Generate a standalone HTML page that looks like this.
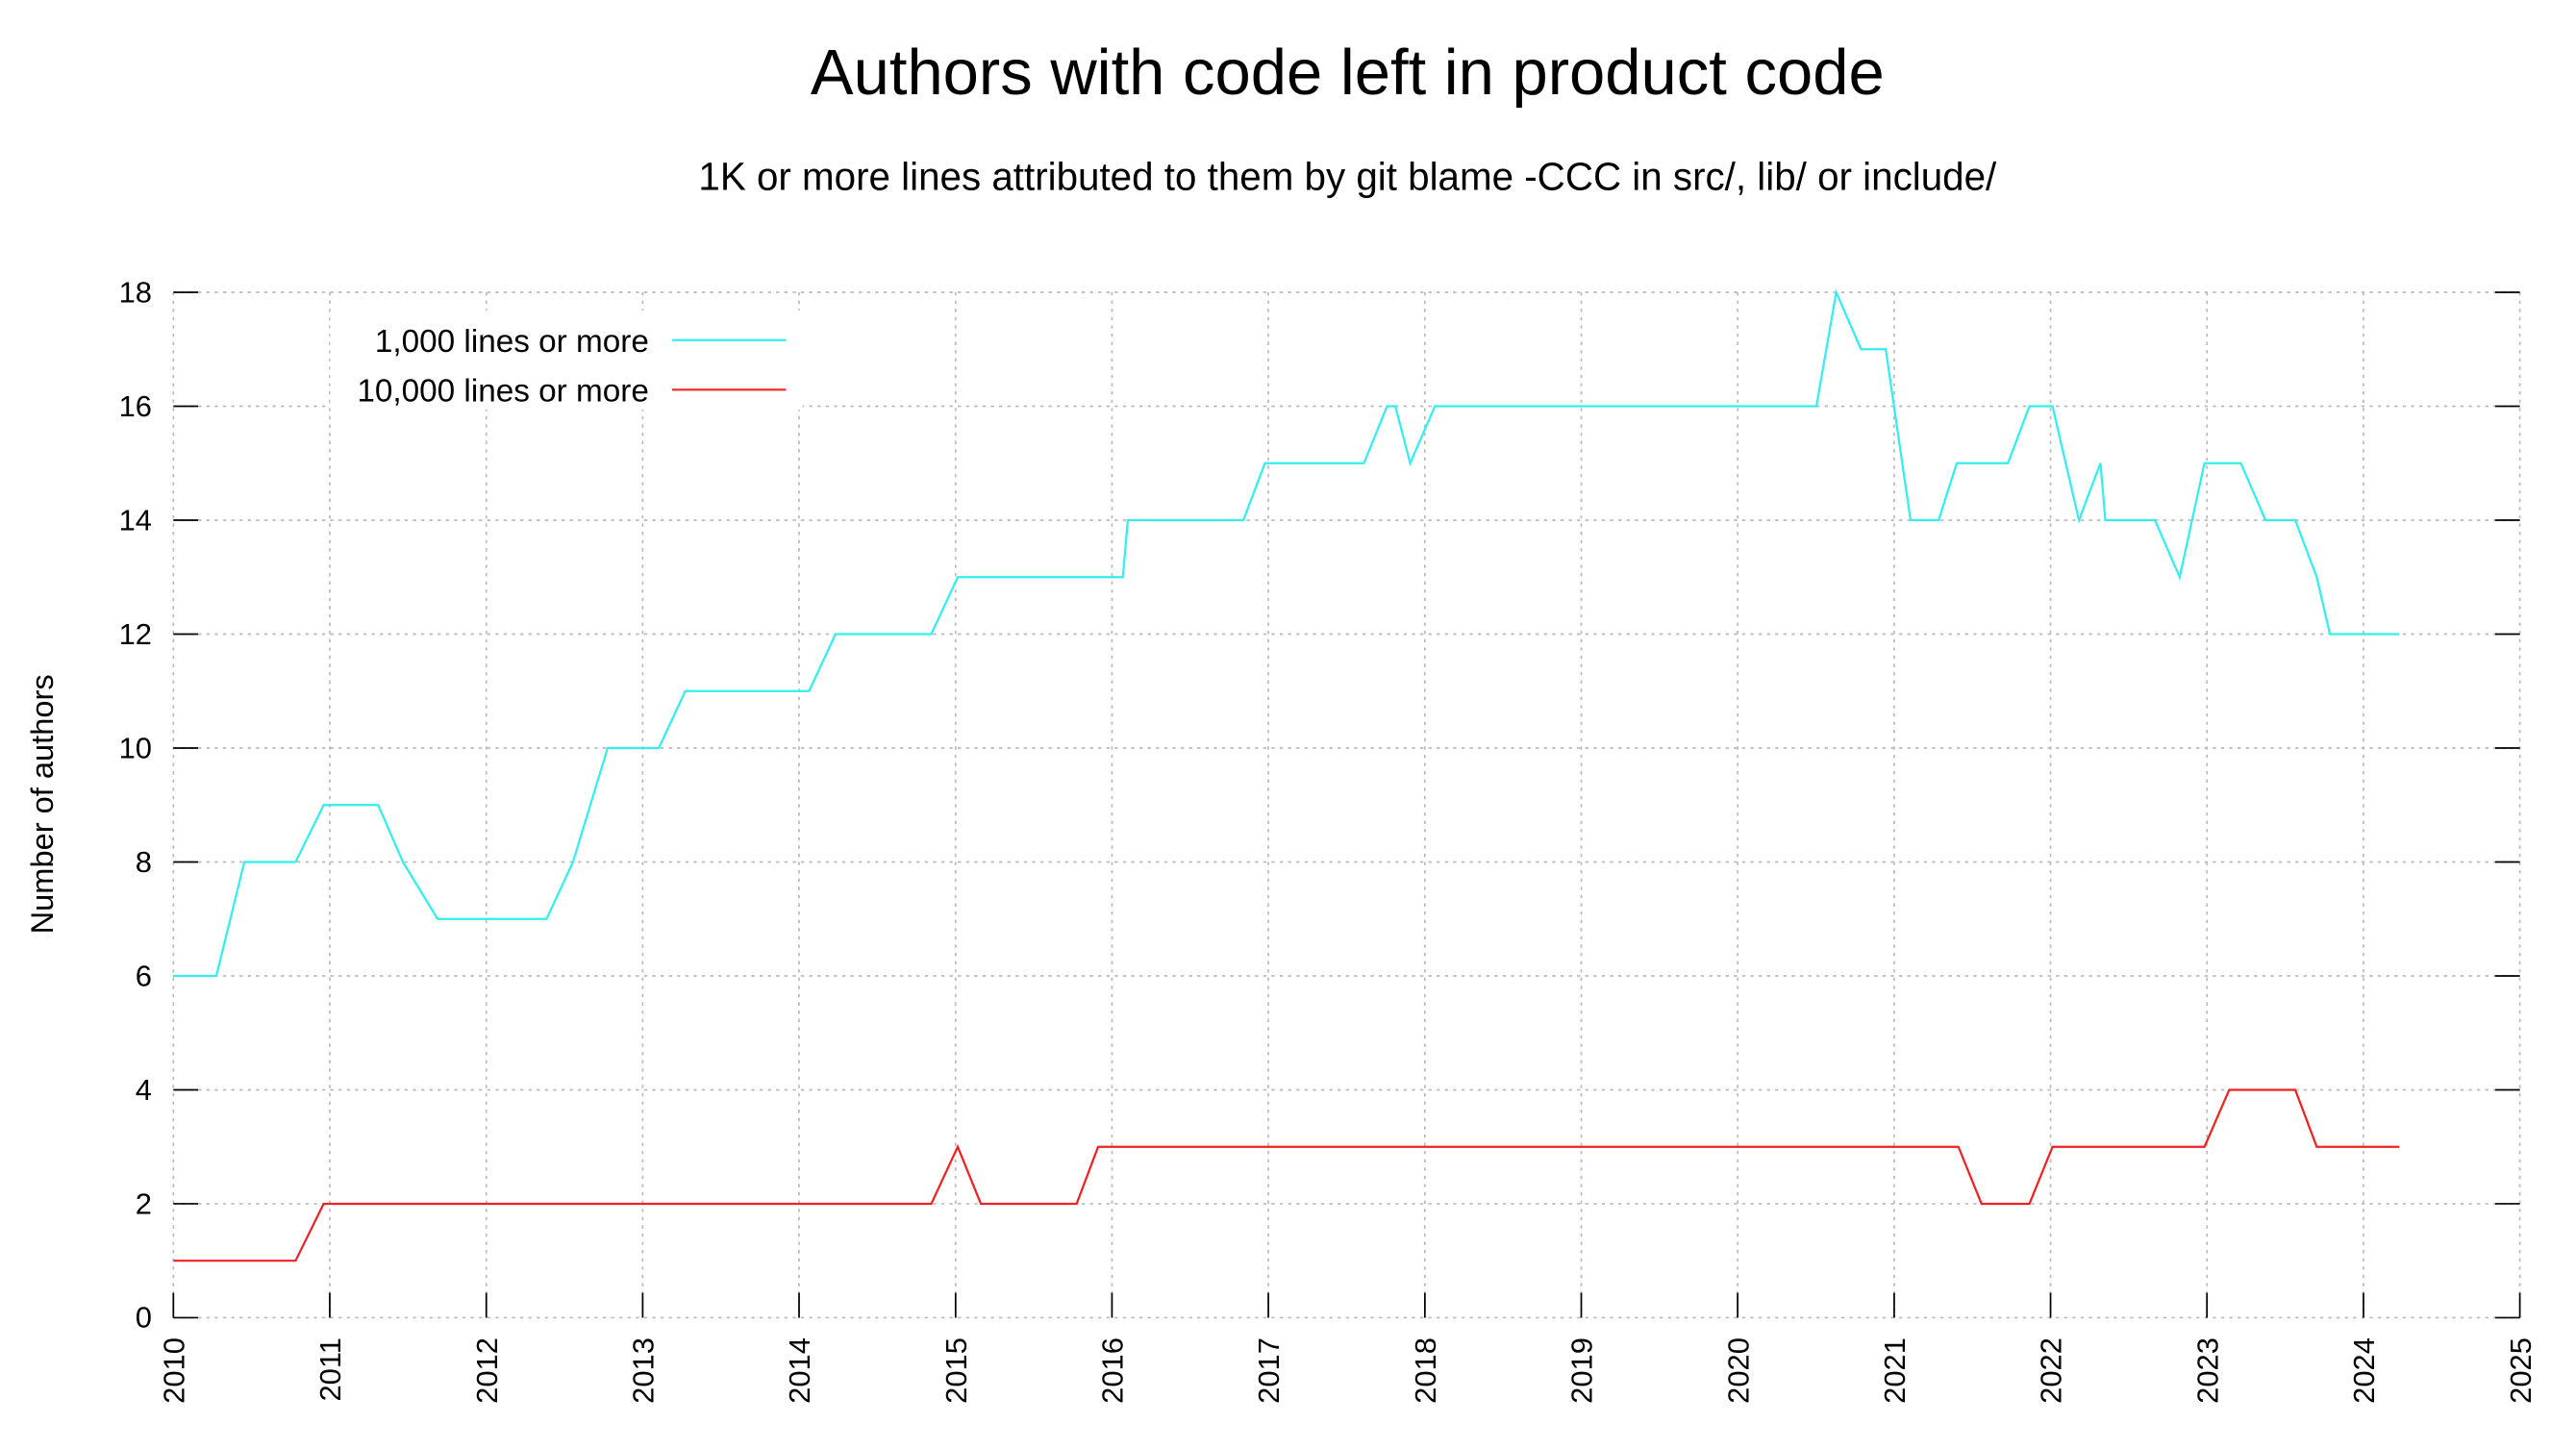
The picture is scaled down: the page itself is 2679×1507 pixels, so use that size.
<!DOCTYPE html>
<html><head><style>html,body{margin:0;padding:0;background:#fff}svg{display:block}</style></head>
<body>
<svg width="2679" height="1507" viewBox="0 0 1560 877.5" xmlns="http://www.w3.org/2000/svg" font-family="Liberation Sans, sans-serif">
<rect width="1560" height="877.5" fill="#fff"/>
<text x="816" y="57" font-size="39" text-anchor="middle">Authors with code left in product code</text>
<text x="816" y="115" font-size="23.5" text-anchor="middle">1K or more lines attributed to them by git blame -CCC in src/, lib/ or include/</text>
<g stroke="#bbb" stroke-width="1" stroke-dasharray="2,3">
<line x1="105" x2="1526" y1="177" y2="177"/><line x1="105" x2="1526" y1="246" y2="246"/><line x1="105" x2="1526" y1="315" y2="315"/><line x1="105" x2="1526" y1="384" y2="384"/><line x1="105" x2="1526" y1="453" y2="453"/><line x1="105" x2="1526" y1="522" y2="522"/><line x1="105" x2="1526" y1="591" y2="591"/><line x1="105" x2="1526" y1="660" y2="660"/><line x1="105" x2="1526" y1="729" y2="729"/><line x1="105" x2="1526" y1="798" y2="798"/>
<line y1="177" y2="798" x1="105" x2="105"/><line y1="177" y2="798" x1="199.7" x2="199.7"/><line y1="177" y2="798" x1="294.5" x2="294.5"/><line y1="177" y2="798" x1="389.2" x2="389.2"/><line y1="177" y2="798" x1="483.9" x2="483.9"/><line y1="177" y2="798" x1="578.7" x2="578.7"/><line y1="177" y2="798" x1="673.4" x2="673.4"/><line y1="177" y2="798" x1="768.1" x2="768.1"/><line y1="177" y2="798" x1="862.9" x2="862.9"/><line y1="177" y2="798" x1="957.6" x2="957.6"/><line y1="177" y2="798" x1="1052.3" x2="1052.3"/><line y1="177" y2="798" x1="1147.1" x2="1147.1"/><line y1="177" y2="798" x1="1241.8" x2="1241.8"/><line y1="177" y2="798" x1="1336.5" x2="1336.5"/><line y1="177" y2="798" x1="1431.3" x2="1431.3"/><line y1="177" y2="798" x1="1526" x2="1526"/>
</g>
<g stroke="#000" stroke-width="1">
<path d="M105 177h15M105 246h15M105 315h15M105 384h15M105 453h15M105 522h15M105 591h15M105 660h15M105 729h15M105 798h15"/>
<path d="M1511 177h15M1511 246h15M1511 315h15M1511 384h15M1511 453h15M1511 522h15M1511 591h15M1511 660h15M1511 729h15M1511 798h15"/>
<path d="M105 798v-15M199.7 798v-15M294.5 798v-15M389.2 798v-15M483.9 798v-15M578.7 798v-15M673.4 798v-15M768.1 798v-15M862.9 798v-15M957.6 798v-15M1052.3 798v-15M1147.1 798v-15M1241.8 798v-15M1336.5 798v-15M1431.3 798v-15M1526 798v-15"/>
</g>
<g font-size="18" text-anchor="end">
<text x="92" y="183">18</text><text x="92" y="252">16</text><text x="92" y="321">14</text><text x="92" y="390">12</text><text x="92" y="459">10</text><text x="92" y="528">8</text><text x="92" y="597">6</text><text x="92" y="666">4</text><text x="92" y="735">2</text><text x="92" y="804">0</text>
</g>
<g font-size="18" text-anchor="end">
<text transform="translate(111.5,810) rotate(-90)">2010</text><text transform="translate(206.2,810) rotate(-90)">2011</text><text transform="translate(301,810) rotate(-90)">2012</text><text transform="translate(395.7,810) rotate(-90)">2013</text><text transform="translate(490.4,810) rotate(-90)">2014</text><text transform="translate(585.2,810) rotate(-90)">2015</text><text transform="translate(679.9,810) rotate(-90)">2016</text><text transform="translate(774.6,810) rotate(-90)">2017</text><text transform="translate(869.4,810) rotate(-90)">2018</text><text transform="translate(964.1,810) rotate(-90)">2019</text><text transform="translate(1058.8,810) rotate(-90)">2020</text><text transform="translate(1153.6,810) rotate(-90)">2021</text><text transform="translate(1248.3,810) rotate(-90)">2022</text><text transform="translate(1343,810) rotate(-90)">2023</text><text transform="translate(1437.8,810) rotate(-90)">2024</text><text transform="translate(1532.5,810) rotate(-90)">2025</text>
</g>
<text transform="translate(32,487) rotate(-90)" font-size="19" text-anchor="middle">Number of authors</text>
<polyline fill="none" stroke="#33eeee" stroke-width="1.3" points="105,591 131,591 148,522 179,522 196,487.5 229,487.5 244,522 265,556.5 331,556.5 347,522 368,453 399,453 415,418.5 490,418.5 506,384 564,384 580,349.5 680,349.5 683,315 753,315 766,280.5 826,280.5 840,246 845,246 854,280.5 869,246 1100,246 1112,177 1127,211.5 1142,211.5 1157,315 1174,315 1185,280.5 1216,280.5 1229,246 1243,246 1259,315 1272,280.5 1275,315 1305,315 1320,349.5 1335,280.5 1357,280.5 1372,315 1390,315 1403,349.5 1411,384 1453,384"/>
<polyline fill="none" stroke="#ee2222" stroke-width="1.3" points="105,763.5 179,763.5 196,729 564,729 580,694.5 594,729 652,729 665,694.5 1186,694.5 1200,729 1229,729 1243,694.5 1335,694.5 1350,660 1390,660 1403,694.5 1453,694.5"/>
<rect x="200" y="188" width="286" height="60" fill="#fff"/>
<text x="393" y="213" font-size="19.4" text-anchor="end">1,000 lines or more</text>
<text x="393" y="243" font-size="19.4" text-anchor="end">10,000 lines or more</text>
<line x1="407" x2="476" y1="206" y2="206" stroke="#33eeee" stroke-width="1.3"/>
<line x1="407" x2="476" y1="236" y2="236" stroke="#ee2222" stroke-width="1.3"/>
</svg>
</body></html>
